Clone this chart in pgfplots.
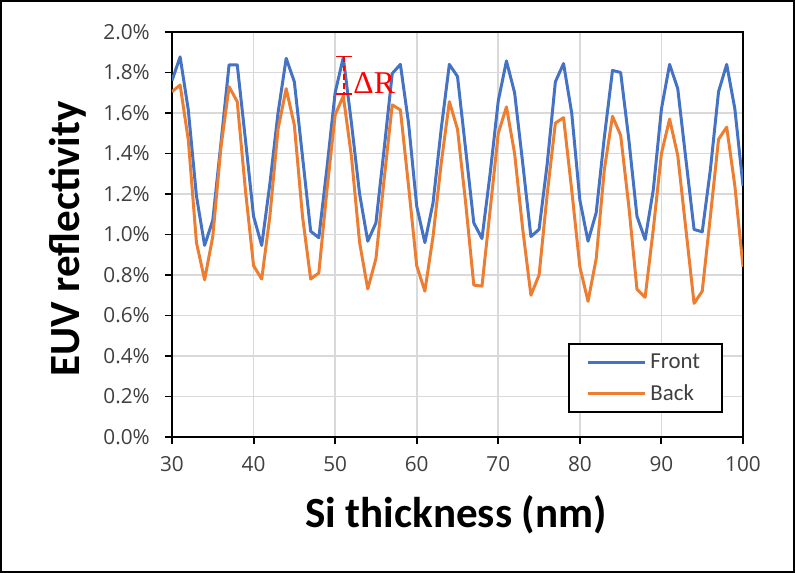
\documentclass[border=0pt]{standalone}
\usepackage{fontspec}
\setmainfont{Carlito}
\newfontfamily\tickfont{Open Sans}
\newfontfamily\serifred{Liberation Serif}
\usepackage{pgfplots}
\pgfplotsset{compat=1.18}
\definecolor{xlblue}{RGB}{68,114,196}
\definecolor{xlorange}{RGB}{237,125,49}
\definecolor{xlgrid}{RGB}{217,217,217}
\definecolor{ticktext}{RGB}{64,64,64}

\pgfplotstableread{
x front back
30 1.760 1.705
31 1.877 1.738
32 1.615 1.467
33 1.190 0.960
34 0.946 0.776
35 1.070 0.990
36 1.450 1.430
37 1.838 1.730
38 1.838 1.656
39 1.470 1.220
40 1.090 0.846
41 0.946 0.780
42 1.250 1.090
43 1.600 1.520
44 1.870 1.720
45 1.754 1.540
46 1.385 1.090
47 1.016 0.780
48 0.984 0.810
49 1.330 1.220
50 1.700 1.590
51 1.874 1.684
52 1.550 1.385
53 1.200 0.960
54 0.967 0.731
55 1.057 0.880
56 1.420 1.270
57 1.795 1.640
58 1.840 1.615
59 1.550 1.240
60 1.140 0.846
61 0.960 0.720
62 1.156 0.990
63 1.520 1.350
64 1.840 1.656
65 1.780 1.520
66 1.420 1.156
67 1.057 0.750
68 0.980 0.745
69 1.300 1.120
70 1.660 1.500
71 1.857 1.630
72 1.700 1.400
73 1.350 1.025
74 0.990 0.700
75 1.025 0.800
76 1.350 1.200
77 1.754 1.550
78 1.844 1.577
79 1.600 1.220
80 1.170 0.840
81 0.967 0.670
82 1.107 0.880
83 1.480 1.320
84 1.810 1.584
85 1.800 1.490
86 1.470 1.140
87 1.090 0.730
88 0.975 0.690
89 1.220 1.025
90 1.620 1.400
91 1.840 1.570
92 1.720 1.390
93 1.370 1.025
94 1.025 0.660
95 1.013 0.720
96 1.320 1.090
97 1.705 1.470
98 1.840 1.530
99 1.620 1.240
100 1.240 0.840
}\datatable

\begin{document}
\begin{tikzpicture}
\begin{axis}[
  at={(0,0)}, anchor=south west,
  scale only axis, width=11.42cm, height=8.1cm,
  xmin=30, xmax=100, ymin=0, ymax=2.0,
  xtick={30,40,...,100},
  ytick={0,0.2,...,2.01},
  axis line style={black, line width=1.1pt},
  tick style={black, line width=1.1pt},
  major tick length=0.14cm,
  tick align=outside,
  xtick pos=bottom, ytick pos=left,
  grid=major,
  major grid style={xlgrid, line width=1pt},
  /pgf/number format/assume math mode=true,
  xticklabel style={font=\tickfont\fontsize{11.8}{12}\selectfont, text=ticktext, yshift=-0.12cm},
  yticklabel style={font=\tickfont\fontsize{11.8}{12}\selectfont, text=ticktext, xshift=-0.18cm},
  yticklabel={\pgfmathprintnumber[fixed,fixed zerofill,precision=1]{\tick}\%},
  legend style={at={(axis description cs:0.6935,0.232)}, anchor=north west,
    draw=black, line width=1.1pt, font=\fontsize{13}{14}\selectfont, text=ticktext,
    inner xsep=0.36cm, inner ysep=0.12cm, row sep=0.13cm,
    legend cell align=left},
  legend image code/.code={\draw[#1] (0cm,0cm) -- (1.14cm,0cm);},
]
\addplot[xlblue, line width=1.7pt, line join=round] table[x=x, y=front] {\datatable};
\addlegendentry{Front}
\addplot[xlorange, line width=1.7pt, line join=round] table[x=x, y=back] {\datatable};
\addlegendentry{Back}
\draw[red, densely dashed, line width=0.7pt] (axis cs:51.1,1.877) -- (axis cs:51.1,1.694);
\draw[red, line width=0.7pt] (axis cs:50.1,1.877) -- (axis cs:52.1,1.877);
\draw[red, line width=0.7pt] (axis cs:50.1,1.694) -- (axis cs:52.1,1.694);
\node[red, anchor=west, inner sep=0pt, font=\serifred\fontsize{18}{19}\selectfont] at (axis cs:52.2,1.75) {ΔR};
\end{axis}
\node[rotate=90, anchor=base, inner sep=0pt, font=\bfseries\fontsize{24.5}{26}\selectfont] at (-1.84cm,3.96cm) {EUV reflectivity};
\node[anchor=base, inner sep=0pt, font=\bfseries\fontsize{24.5}{26}\selectfont] at (5.68cm,-1.80cm) {Si thickness (nm)};
\draw[black, line width=1.1pt, use as bounding box] (-3.42cm,-2.70cm) rectangle (12.44cm,8.72cm);
\end{tikzpicture}
\end{document}
